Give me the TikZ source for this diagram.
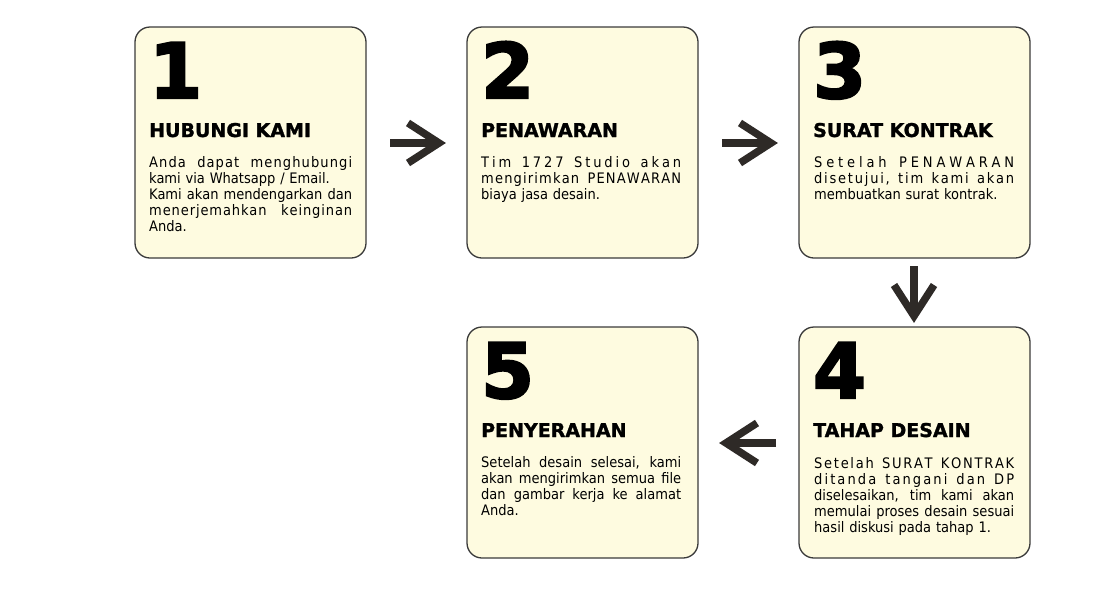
\documentclass[tikz,border=0pt]{standalone}
\usepackage{fontspec}
\setmainfont{DejaVu Sans Condensed}
\newfontfamily\numfont[FakeBold=3]{DejaVu Sans Bold}
\newfontfamily\headfont[FakeBold=1.4]{DejaVu Sans Bold}
\usetikzlibrary{calc}
\definecolor{boxfill}{HTML}{FEFBE0}
\definecolor{boxline}{HTML}{3A3A3A}
\definecolor{arrowcol}{HTML}{2E2A27}
\newlength\bodyw
\setlength\bodyw{201pt}
\def\wsf{1}
\makeatletter
\def\lsp@#1{\ifx#1\relax\else\ifx#1~~\hspace{0pt plus \wsf fil}\else#1\hspace{0pt plus 1fil}\fi\expandafter\lsp@\fi}
\newcommand\lsl[2][1]{\makebox[\bodyw][s]{\def\wsf{#1}\lsp@#2\relax\unskip}}
\makeatother
\newcommand\jl[1]{\makebox[\bodyw][s]{\spaceskip=0.3em plus 1fil\xspaceskip=0.3em plus 1fil #1}}
\tikzset{
  x=1pt, y=-1pt,
  stepcard/.style={draw=boxline, line width=1.3pt, fill=boxfill, rounded corners=15pt},
  bignum/.style={anchor=base west, inner sep=0pt, font=\numfont\fontsize{76}{76}\selectfont},
  headtxt/.style={anchor=base west, inner sep=0pt, font=\headfont\fontsize{19}{22}\selectfont},
  bodytxt/.style={anchor=north west, inner sep=0pt, text width=#1, align=left,
     font={\fontsize{14.5}{16}\selectfont\setlength\bodyw{#1}}},
  bodytxt/.default=200pt,
  arr/.style={draw=arrowcol, line width=7.5pt, line join=miter, line cap=butt},
}
\begin{document}
\begin{tikzpicture}
\useasboundingbox (0,0) rectangle (1098,598);
% boxes
\draw[stepcard] (135,27) rectangle (366,258);
\draw[stepcard] (467,27) rectangle (698,258);
\draw[stepcard] (799,27) rectangle (1030,258);
\draw[stepcard] (799,327) rectangle (1030,558);
\draw[stepcard] (467,327) rectangle (698,558);
\coordinate (b1) at (135,27);
\coordinate (b2) at (467,27);
\coordinate (b3) at (799,27);
\coordinate (b4) at (799,327);
\coordinate (b5) at (467,327);
% box 1
\node[bignum] (n1) at ($(b1)+(14,71)$) {1};
\node[headtxt] (h1) at ($(b1)+(14,110)$) {HUBUNGI KAMI};
\node[bodytxt=203pt] (t1) at ($(b1)+(14,129)$) {\rule{0pt}{11pt}\lsl[5]{Anda~dapat~menghubungi}\\
kami via Whatsapp / Email.\\
\jl{Kami akan mendengarkan dan}\\
\lsl[10]{menerjemahkan~keinginan}\\
Anda.};
% box 2
\node[bignum] (n2) at ($(b2)+(14,71)$) {2};
\node[headtxt] (h2) at ($(b2)+(14,110)$) {PENAWARAN};
\node[bodytxt] (t2) at ($(b2)+(14,129)$) {\rule{0pt}{11pt}\lsl{Tim~1727~Studio~akan}\\
\lsl[2]{mengirimkan~PENAWARAN}\\
biaya jasa desain.};
% box 3
\node[bignum] (n3) at ($(b3)+(14,71)$) {3};
\node[headtxt] (h3) at ($(b3)+(14,110)$) {SURAT KONTRAK};
\node[bodytxt] (t3) at ($(b3)+(15,129)$) {\rule{0pt}{11pt}\lsl{Setelah~PENAWARAN}\\
\lsl{disetujui,~tim~kami~akan}\\
membuatkan surat kontrak.};
% box 4
\node[bignum] (n4) at ($(b4)+(14,71)$) {4};
\node[headtxt] (h4) at ($(b4)+(14,110)$) {TAHAP DESAIN};
\node[bodytxt] (t4) at ($(b4)+(15,130)$) {\rule{0pt}{11pt}\lsl{Setelah~SURAT~KONTRAK}\\
\lsl{ditanda~tangani~dan~DP}\\
\jl{diselesaikan, tim kami akan}\\
\jl{memulai proses desain sesuai}\\
hasil diskusi pada tahap 1.};
% box 5
\node[bignum] (n5) at ($(b5)+(14,71)$) {5};
\node[headtxt] (h5) at ($(b5)+(14,110)$) {PENYERAHAN};
\node[bodytxt] (t5) at ($(b5)+(14,129)$) {\rule{0pt}{11pt}\jl{Setelah desain selesai, kami}\\
\jl{akan mengirimkan semua file}\\
\jl{dan gambar kerja ke alamat}\\
Anda.};
% arrows
\coordinate (a1s) at (390,143); \coordinate (a1e) at (439,143);
\draw[arr] (a1s) -- (a1e);
\draw[arr] ($(a1e)+(-31,-20)$) -- (a1e) -- ($(a1e)+(-31,20)$);
\coordinate (a2s) at (722,143); \coordinate (a2e) at (771,143);
\draw[arr] (a2s) -- (a2e);
\draw[arr] ($(a2e)+(-31,-20)$) -- (a2e) -- ($(a2e)+(-31,20)$);
\coordinate (a3s) at (914,266); \coordinate (a3e) at (914,316);
\draw[arr] (a3s) -- (a3e);
\draw[arr] ($(a3e)+(-20,-31)$) -- (a3e) -- ($(a3e)+(20,-31)$);
\coordinate (a4s) at (776,443); \coordinate (a4e) at (726,443);
\draw[arr] (a4s) -- (a4e);
\draw[arr] ($(a4e)+(31,-20)$) -- (a4e) -- ($(a4e)+(31,20)$);
\end{tikzpicture}
\end{document}
